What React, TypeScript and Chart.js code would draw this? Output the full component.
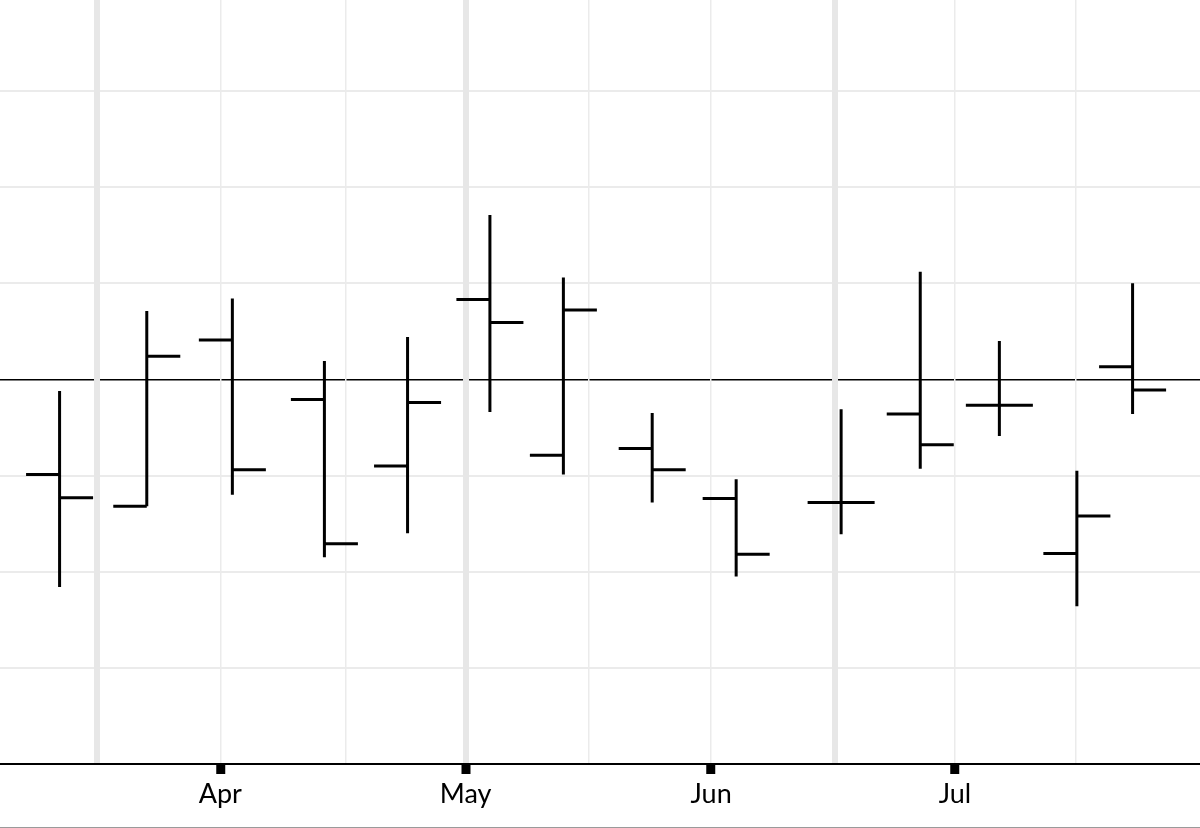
import React, { useEffect, useRef } from "react";
import { Chart, registerables } from "chart.js";

Chart.register(...registerables);

// Bar dates as day-of-year
const barDays = [71.1, 81.9, 92.5, 103.9, 114.2, 124.4, 133.5, 144.5, 154.9, 167.9, 177.7, 187.5, 197.1, 204.0];
const opens = [-0.99, -1.32, 0.41, -0.21, -0.9, 0.83, -0.79, -0.72, -1.24, -1.28, -0.36, -0.27, -1.81, 0.13];
const highs = [-0.12, 0.71, 0.84, 0.19, 0.44, 1.71, 1.06, -0.35, -1.04, -0.31, 1.12, 0.4, -0.95, 1.0];
const lows = [-2.16, -1.32, -1.2, -1.85, -1.6, -0.34, -0.99, -1.28, -2.05, -1.61, -0.93, -0.59, -2.36, -0.36];
const closes = [-1.23, 0.24, -0.94, -1.71, -0.24, 0.59, 0.72, -0.94, -1.82, -1.28, -0.68, -0.27, -1.42, -0.11];

// Axis
const monthTickDays = [91, 121.4, 151.8, 182];
const monthLabels = ["Apr", "May", "Jun", "Jul"];
const midGridDays = [75.7, 106.5, 136.7, 167.1, 197];
const thickGridDays = [75.7, 121.4, 167.1];
const yGridValues = [-3, -2, -1, 0, 1, 2, 3];

const X_MIN = 63.72;
const X_MAX = 212.35;
const Y_MIN = -4;
const Y_MAX = 3.945;
const TICK_DAYS = 4.15;

export default function App() {
  const ref = useRef<HTMLCanvasElement | null>(null);

  useEffect(() => {
    if (!ref.current) return;
    const pts: { x: number; y: number | null }[] = [];
    for (let i = 0; i < barDays.length; i++) {
      const d = barDays[i];
      pts.push({ x: d, y: highs[i] }, { x: d, y: lows[i] }, { x: d, y: null });
      pts.push({ x: d - TICK_DAYS, y: opens[i] }, { x: d, y: opens[i] }, { x: d, y: null });
      pts.push({ x: d, y: closes[i] }, { x: d + TICK_DAYS, y: closes[i] }, { x: d, y: null });
    }
    const xTicks = [...midGridDays, ...monthTickDays].sort((a, b) => a - b);
    const isMonth = (v: number) => monthTickDays.indexOf(v) >= 0;
    const isThick = (v: number) => thickGridDays.indexOf(v) >= 0;

    const chart = new Chart(ref.current, {
      type: "line",
      data: {
        datasets: [
          {
            data: pts as any,
            borderColor: "#000",
            borderWidth: 3,
            borderCapStyle: "butt",
            pointRadius: 0,
            pointHoverRadius: 0,
            spanGaps: false,
            tension: 0,
          },
        ],
      },
      options: {
        animation: false,
        responsive: true,
        maintainAspectRatio: false,
        layout: { padding: 0 },
        plugins: { legend: { display: false }, tooltip: { enabled: false } },
        events: [],
        scales: {
          x: {
            type: "linear",
            min: X_MIN,
            max: X_MAX,
            afterBuildTicks: (s: any) => {
              s.ticks = xTicks.map((v) => ({ value: v }));
            },
            afterFit: (s: any) => {
              s.height = 63;
            },
            ticks: {
              autoSkip: false,
              maxRotation: 0,
              padding: 4,
              color: "#000",
              font: { family: "Lato", size: 27 },
              callback: (v: any) => {
                const i = monthTickDays.indexOf(Number(v));
                return i >= 0 ? monthLabels[i] : "";
              },
            },
            grid: {
              z: -1,
              color: (c: any) => (isThick(c.tick?.value) ? "#e7e7e7" : "#ebebeb"),
              lineWidth: (c: any) => (isThick(c.tick?.value) ? 6 : 1.5),
              tickColor: (c: any) => (isMonth(c.tick?.value) ? "#000" : "rgba(0,0,0,0)"),
              tickWidth: 9,
              tickLength: 10,
            },
            border: { display: true, color: "#000", width: 2 },
          },
          y: {
            min: Y_MIN,
            max: Y_MAX,
            afterBuildTicks: (s: any) => {
              s.ticks = yGridValues.map((v) => ({ value: v }));
            },
            afterFit: (s: any) => {
              s.width = 0;
            },
            ticks: { display: false },
            grid: {
              z: -2,
              drawTicks: false,
              color: (c: any) => (c.tick?.value === 0 ? "#000" : "#ebebeb"),
              lineWidth: (c: any) => (c.tick?.value === 0 ? 1.5 : 2),
            },
            border: { display: false },
          },
        },
      },
    });
    return () => chart.destroy();
  }, []);

  return (
    <div
      style={{
        position: "absolute",
        left: 0,
        top: 0,
        width: 1200,
        height: 827,
        borderBottom: "1px solid #9a9a9a",
        background: "#fff",
      }}
    >
      <canvas ref={ref} />
    </div>
  );
}
